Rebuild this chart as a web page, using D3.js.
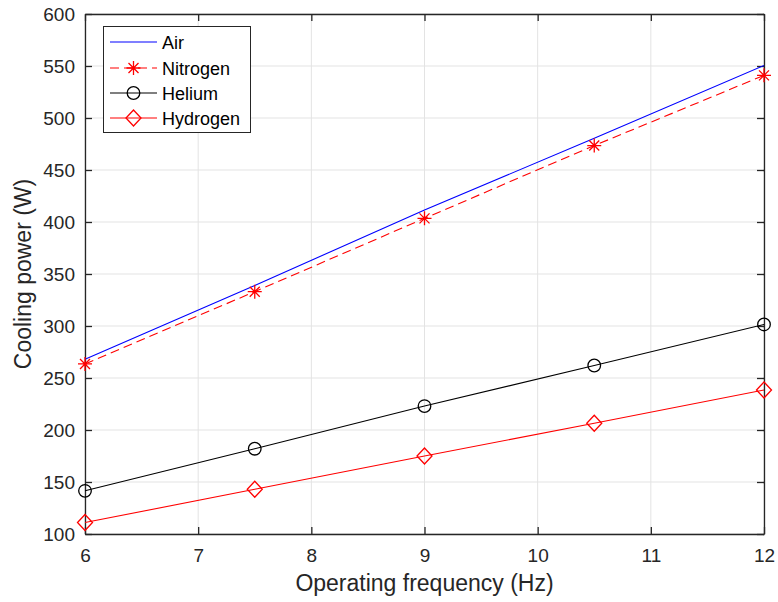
<!DOCTYPE html>
<html>
<head>
<meta charset="utf-8">
<script src="https://cdn.jsdelivr.net/npm/d3@7"></script>
<style>
  body { margin: 0; background: #fff; }
  svg { display: block; font-family: Arial, "Liberation Sans", Helvetica, sans-serif; }
</style>
</head>
<body>
<svg id="chart" width="778" height="602"></svg>
<script>
// data
var freq = [6, 7.5, 9, 10.5, 12];
var air = [268, 339, 411.5, 480.5, 550.5];
var nitrogen = [263.5, 333, 403.5, 473.5, 541];
var helium = [141.5, 182, 223, 262, 301.5];
var hydrogen = [111, 143, 175, 206.5, 238.5];
var xTicks = [6, 7, 8, 9, 10, 11, 12];
var yTicks = [100, 150, 200, 250, 300, 350, 400, 450, 500, 550, 600];

var series = [
    {name: "Air", values: air, color: "#0000ff", dash: null, marker: "none"},
    {name: "Nitrogen", values: nitrogen, color: "#ff0000", dash: "9,5", marker: "star"},
    {name: "Helium", values: helium, color: "#000000", dash: null, marker: "circle"},
    {name: "Hydrogen", values: hydrogen, color: "#ff0000", dash: null, marker: "diamond"}
];

var svg = d3.select("#chart");
var axisColor = "#262626";

//plot box
var box = {left: 85, right: 764, top: 14, bottom: 534};

var x = d3.scaleLinear().domain([6, 12]).range([box.left, box.right]);
var y = d3.scaleLinear().domain([100, 600]).range([box.bottom, box.top]);

//grid lines
var grid = svg.append("g").attr("class", "grid");
grid.selectAll(".gx").data(xTicks).enter().append("line")
    .attr("x1", function(d) { return x(d); })
    .attr("x2", function(d) { return x(d); })
    .attr("y1", box.top).attr("y2", box.bottom)
    .attr("stroke", "#e3e3e3").attr("stroke-width", 1);
grid.selectAll(".gy").data(yTicks).enter().append("line")
    .attr("x1", box.left).attr("x2", box.right)
    .attr("y1", function(d) { return y(d); })
    .attr("y2", function(d) { return y(d); })
    .attr("stroke", "#e3e3e3").attr("stroke-width", 1);

//axes, ticks pointing inward, box on
var tickLen = 7;
var fmt = d3.format("d");
svg.append("g")
    .attr("transform", "translate(0," + box.bottom + ")")
    .call(d3.axisBottom(x).tickValues(xTicks).tickFormat(fmt).tickSizeInner(-tickLen).tickSizeOuter(0).tickPadding(15))
    .call(styleAxis);
svg.append("g")
    .attr("transform", "translate(0," + box.top + ")")
    .call(d3.axisTop(x).tickValues(xTicks).tickSizeInner(-tickLen).tickSizeOuter(0).tickFormat(""))
    .call(styleAxis);
svg.append("g")
    .attr("transform", "translate(" + box.left + ",0)")
    .call(d3.axisLeft(y).tickValues(yTicks).tickFormat(fmt).tickSizeInner(-tickLen).tickSizeOuter(0).tickPadding(10))
    .call(styleAxis);
svg.append("g")
    .attr("transform", "translate(" + box.right + ",0)")
    .call(d3.axisRight(y).tickValues(yTicks).tickSizeInner(-tickLen).tickSizeOuter(0).tickFormat(""))
    .call(styleAxis);

function styleAxis(g) {
    g.select(".domain").attr("stroke", axisColor).attr("stroke-width", 1.3);
    g.selectAll(".tick line").attr("stroke", axisColor).attr("stroke-width", 1.3);
    g.selectAll(".tick text").attr("fill", axisColor).style("font-size", "19px");
}

//axis labels
svg.append("text")
    .attr("x", (box.left + box.right) / 2).attr("y", 591)
    .attr("text-anchor", "middle")
    .attr("fill", axisColor)
    .style("font-size", "23px")
    .text("Operating frequency (Hz)");
svg.append("text")
    .attr("transform", "translate(31," + ((box.top + box.bottom) / 2) + ") rotate(-90)")
    .attr("text-anchor", "middle")
    .attr("fill", axisColor)
    .style("font-size", "23px")
    .text("Cooling power (W)");

//marker drawing
function drawMarker(g, type, color) {
    if (type === "circle") {
        g.append("circle").attr("r", 6.3)
            .attr("fill", "none").attr("stroke", color).attr("stroke-width", 1.3);
    } else if (type === "diamond") {
        g.append("path").attr("d", "M0,-8L7.5,0L0,8L-7.5,0Z")
            .attr("fill", "none").attr("stroke", color).attr("stroke-width", 1.3);
    } else if (type === "star") {
        var r = 7, s = 5;
        g.append("path")
            .attr("d", "M0," + (-r) + "V" + r + "M" + (-r) + ",0H" + r +
                "M" + (-s) + "," + (-s) + "L" + s + "," + s +
                "M" + (-s) + "," + s + "L" + s + "," + (-s))
            .attr("fill", "none").attr("stroke", color).attr("stroke-width", 1.3);
    }
}

var line = d3.line()
    .x(function(d) { return x(d[0]); })
    .y(function(d) { return y(d[1]); });

var plot = svg.append("g").attr("class", "plot");
series.forEach(function(s) {
    var pts = freq.map(function(f, i) { return [f, s.values[i]]; });
    plot.append("path")
        .datum(pts)
        .attr("d", line)
        .attr("fill", "none")
        .attr("stroke", s.color)
        .attr("stroke-width", 1.1)
        .attr("stroke-dasharray", s.dash);
    if (s.marker !== "none") {
        plot.selectAll(null).data(pts).enter().append("g")
            .attr("transform", function(d) { return "translate(" + x(d[0]) + "," + y(d[1]) + ")"; })
            .each(function() { drawMarker(d3.select(this), s.marker, s.color); });
    }
});

//legend
var legend = svg.append("g").attr("class", "legend");
legend.append("rect")
    .attr("x", 103.5).attr("y", 26.5).attr("width", 147).attr("height", 106)
    .attr("fill", "#fff").attr("stroke", axisColor).attr("stroke-width", 1);
var rows = [42, 68, 93, 118];
series.forEach(function(s, i) {
    var row = legend.append("g").attr("transform", "translate(0," + rows[i] + ")");
    row.append("line")
        .attr("x1", 110).attr("x2", 157).attr("y1", 0).attr("y2", 0)
        .attr("stroke", s.color).attr("stroke-width", 1.1)
        .attr("stroke-dasharray", s.dash);
    var m = row.append("g").attr("transform", "translate(133.5,0)");
    drawMarker(m, s.marker, s.color);
    row.append("text")
        .attr("x", 162).attr("y", 6.5)
        .attr("fill", "#000")
        .style("font-size", "18px")
        .text(s.name);
});
</script>
</body>
</html>
